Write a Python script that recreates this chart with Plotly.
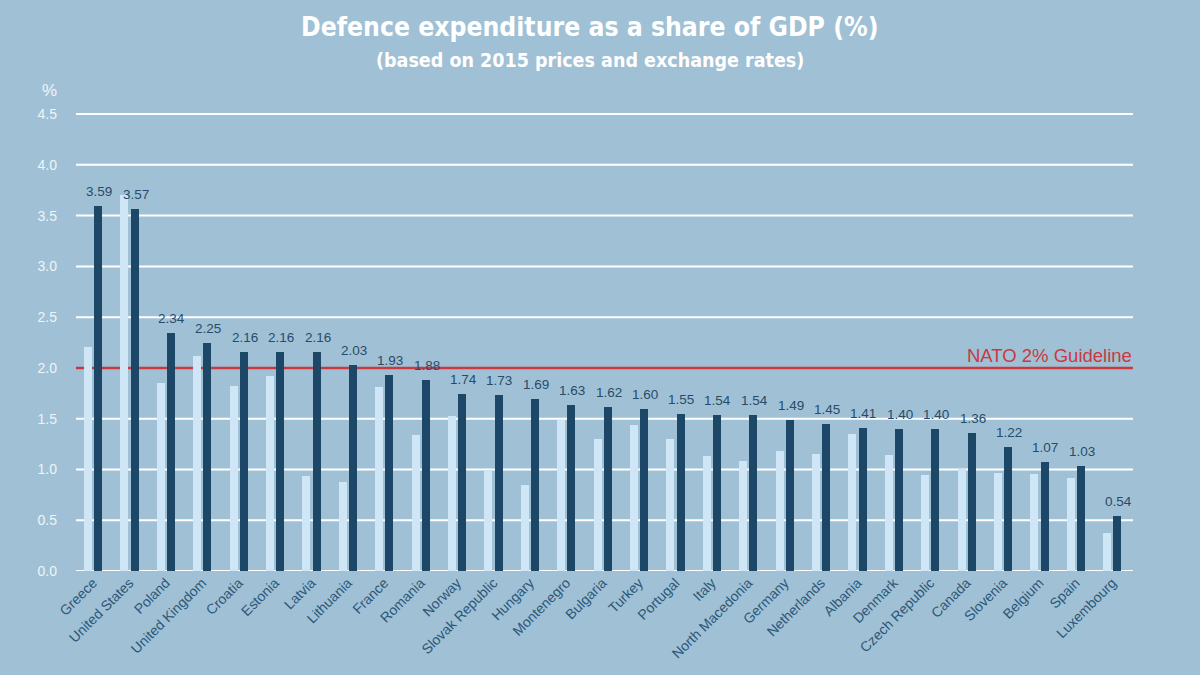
import plotly.graph_objects as go

countries = ["Greece", "United States", "Poland", "United Kingdom", "Croatia", "Estonia",
             "Latvia", "Lithuania", "France", "Romania", "Norway", "Slovak Republic",
             "Hungary", "Montenegro", "Bulgaria", "Turkey", "Portugal", "Italy",
             "North Macedonia", "Germany", "Netherlands", "Albania", "Denmark",
             "Czech Republic", "Canada", "Slovenia", "Belgium", "Spain", "Luxembourg"]

values_2014 = [2.21, 3.70, 1.85, 2.12, 1.82, 1.92, 0.94, 0.88, 1.81, 1.34, 1.53, 0.98,
               0.85, 1.49, 1.30, 1.44, 1.30, 1.13, 1.08, 1.18, 1.15, 1.35, 1.14, 0.95,
               1.00, 0.97, 0.96, 0.92, 0.37]

values_2019 = [3.59, 3.57, 2.34, 2.25, 2.16, 2.16, 2.16, 2.03, 1.93, 1.88, 1.74, 1.73,
               1.69, 1.63, 1.62, 1.60, 1.55, 1.54, 1.54, 1.49, 1.45, 1.41, 1.40, 1.40,
               1.36, 1.22, 1.07, 1.03, 0.54]

y_ticks = [0.0, 0.5, 1.0, 1.5, 2.0, 2.5, 3.0, 3.5, 4.0, 4.5]
guideline = 2.0
guideline_label = "NATO 2% Guideline"
title_text = "Defence expenditure as a share of GDP (%)"
subtitle_text = "(based on 2015 prices and exchange rates)"

BG = "#a0c1d5"
DARK = "#1c4766"
LIGHT = "#cfe6f6"
RED = "#c9393f"
SANS = "Liberation Sans, Arial, sans-serif"
COND = "DejaVu Sans Condensed, DejaVu Sans, sans-serif"

fig = go.Figure()
fig.add_trace(go.Bar(
    x=countries, y=values_2014, marker=dict(color=LIGHT, line=dict(width=0)),
    width=0.22, offset=-0.25, showlegend=False, hoverinfo="x+y"))
fig.add_trace(go.Bar(
    x=countries, y=values_2019, marker=dict(color=DARK, line=dict(width=0)),
    width=0.22, offset=0.03, showlegend=False, hoverinfo="x+y"))

# value labels above the dark bars
for c, v in zip(countries, values_2019):
    fig.add_annotation(x=c, y=v, xref="x", yref="y", text=f"{v:.2f}", showarrow=False,
                       xanchor="center", yanchor="bottom", xshift=6, yshift=5,
                       font=dict(family=SANS, size=13.5, color="#284b69"))

# gridlines drawn as shapes so the guideline can sit above them but below the bars
for t in y_ticks:
    fig.add_shape(type="line", xref="paper", yref="y", x0=0, x1=1, y0=t, y1=t,
                  line=dict(color="white", width=2), layer="below")
fig.add_shape(type="line", xref="paper", yref="y", x0=0, x1=1, y0=guideline, y1=guideline,
              line=dict(color=RED, width=2.5), layer="below")

fig.add_annotation(xref="paper", yref="y", x=1, y=guideline, text=guideline_label,
                   showarrow=False, xanchor="right", yanchor="bottom", yshift=0, xshift=1,
                   font=dict(family=SANS, size=18.5, color=RED))
fig.add_annotation(xref="paper", yref="paper", x=0.5, y=1, text=f"<b>{title_text}</b>",
                   showarrow=False, xanchor="center", yanchor="middle", yshift=82, xshift=-15,
                   font=dict(family=COND, size=26.3, color="white"))
fig.add_annotation(xref="paper", yref="paper", x=0.5, y=1, text=f"<b>{subtitle_text}</b>",
                   showarrow=False, xanchor="center", yanchor="middle", yshift=49, xshift=-15,
                   font=dict(family=COND, size=19.5, color="white"))
fig.add_annotation(xref="paper", yref="paper", x=0, y=1, text="%", showarrow=False,
                   xanchor="left", yanchor="middle", xshift=-36, yshift=19,
                   font=dict(family=SANS, size=17, color="#eef4f8"))

fig.update_layout(
    width=1200, height=675,
    paper_bgcolor=BG, plot_bgcolor=BG,
    margin=dict(l=76, r=67, t=109, b=104),
    bargap=0, barmode="overlay",
    xaxis=dict(range=[-0.47, 28.57], tickangle=-45, showgrid=False, showline=False,
               zeroline=False, ticks="",
               tickfont=dict(family=SANS, size=14, color="#2c5779")),
    yaxis=dict(range=[0, 4.55], tickvals=y_ticks, ticktext=[f"{t:.1f}" for t in y_ticks],
               showgrid=False, zeroline=False, showline=False, ticks="", ticklabelstandoff=18,
               tickfont=dict(family=SANS, size=14, color="#eef4f8")),
)

fig.write_html("out.html", config={"displayModeBar": False},
               post_script="document.body.style.margin='0';document.body.style.background='%s';" % BG)
